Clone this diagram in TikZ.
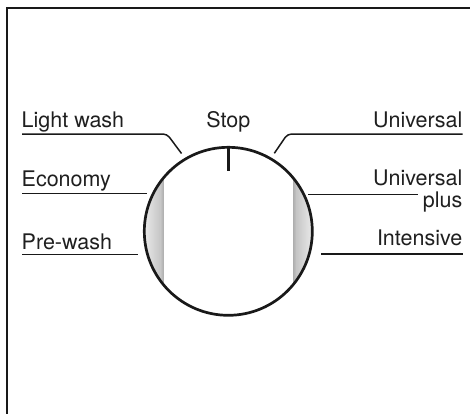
\documentclass[tikz,border=0pt]{standalone}
\usepackage{fontspec}
\setmainfont{TeX Gyre Heros}
\begin{document}
\begin{tikzpicture}[x=1pt,y=-1pt,
  lbl/.style={inner sep=0pt,font=\fontsize{21.5}{24}\selectfont,text=black!88},
  uline/.style={line width=1.5pt,black!90},
  frame/.style={line width=2pt,black!90}]
\useasboundingbox (0,0) rectangle (470,413);
% frame
\coordinate (f1) at (7,414);
\coordinate (f2) at (7,7.5);
\coordinate (f3) at (471,7.5);
\draw[frame] (f1) -- (f2) -- (f3);
% dial bands
\begin{scope}
  \clip (228.3,231.3) circle[radius=84];
  \shade[left color=gray!10,right color=gray!45] (140,140) rectangle (160.3,320);
  \shade[left color=gray!45,right color=gray!62] (160.3,140) rectangle (163.3,320);
  \shade[left color=gray!62,right color=gray!45] (293.3,140) rectangle (296.3,320);
  \shade[left color=gray!45,right color=gray!10] (296.3,140) rectangle (316,320);
\end{scope}
\node[draw,circle,line width=2.7pt,minimum size=168pt,inner sep=0pt,black!90] (dial) at (228.3,231.3) {};
\coordinate (tk) at (228.3,171);
\draw[line width=3pt,black!90] (dial.north) -- (tk);
% labels
\node[lbl,anchor=base west] (lw) at (21.5,127.7) {Light wash};
\node[lbl,anchor=base] (stop) at (228.3,127.7) {Stop};
\node[lbl,anchor=base east] (uni) at (462.5,127.7) {Universal};
\node[lbl,anchor=base west] (eco) at (21.5,186.7) {Economy};
\node[lbl,anchor=base west] (pre) at (21.5,249.3) {Pre-wash};
\node[lbl,anchor=base east] (up1) at (462.5,185.7) {Universal};
\node[lbl,anchor=base east] (up2) at (462.5,207.3) {plus};
\node[lbl,anchor=base east] (int) at (462.5,245.7) {Intensive};
% underline coordinates
\coordinate (lwa) at (22,134);
\coordinate (lwb) at (167,134);
\coordinate (lwc) at (181.5,153.5);
\coordinate (unia) at (462.5,134);
\coordinate (unib) at (287.5,134);
\coordinate (unic) at (274.3,153.3);
\coordinate (ecoa) at (22,193.7);
\coordinate (ecob) at (146.7,193.7);
\coordinate (prea) at (22,254.3);
\coordinate (preb) at (138.3,254.3);
\coordinate (upa) at (308.3,194.7);
\coordinate (upb) at (418.3,194.7);
\coordinate (inta) at (321,254);
\coordinate (intb) at (462.5,254);
\draw[uline,rounded corners=4pt] (lwa) -- (lwb) -- (lwc);
\draw[uline,rounded corners=4pt] (unia) -- (unib) -- (unic);
\draw[uline] (ecoa) -- (ecob);
\draw[uline] (prea) -- (preb);
\draw[uline] (upa) -- (upb);
\draw[uline] (inta) -- (intb);
\end{tikzpicture}
\end{document}
